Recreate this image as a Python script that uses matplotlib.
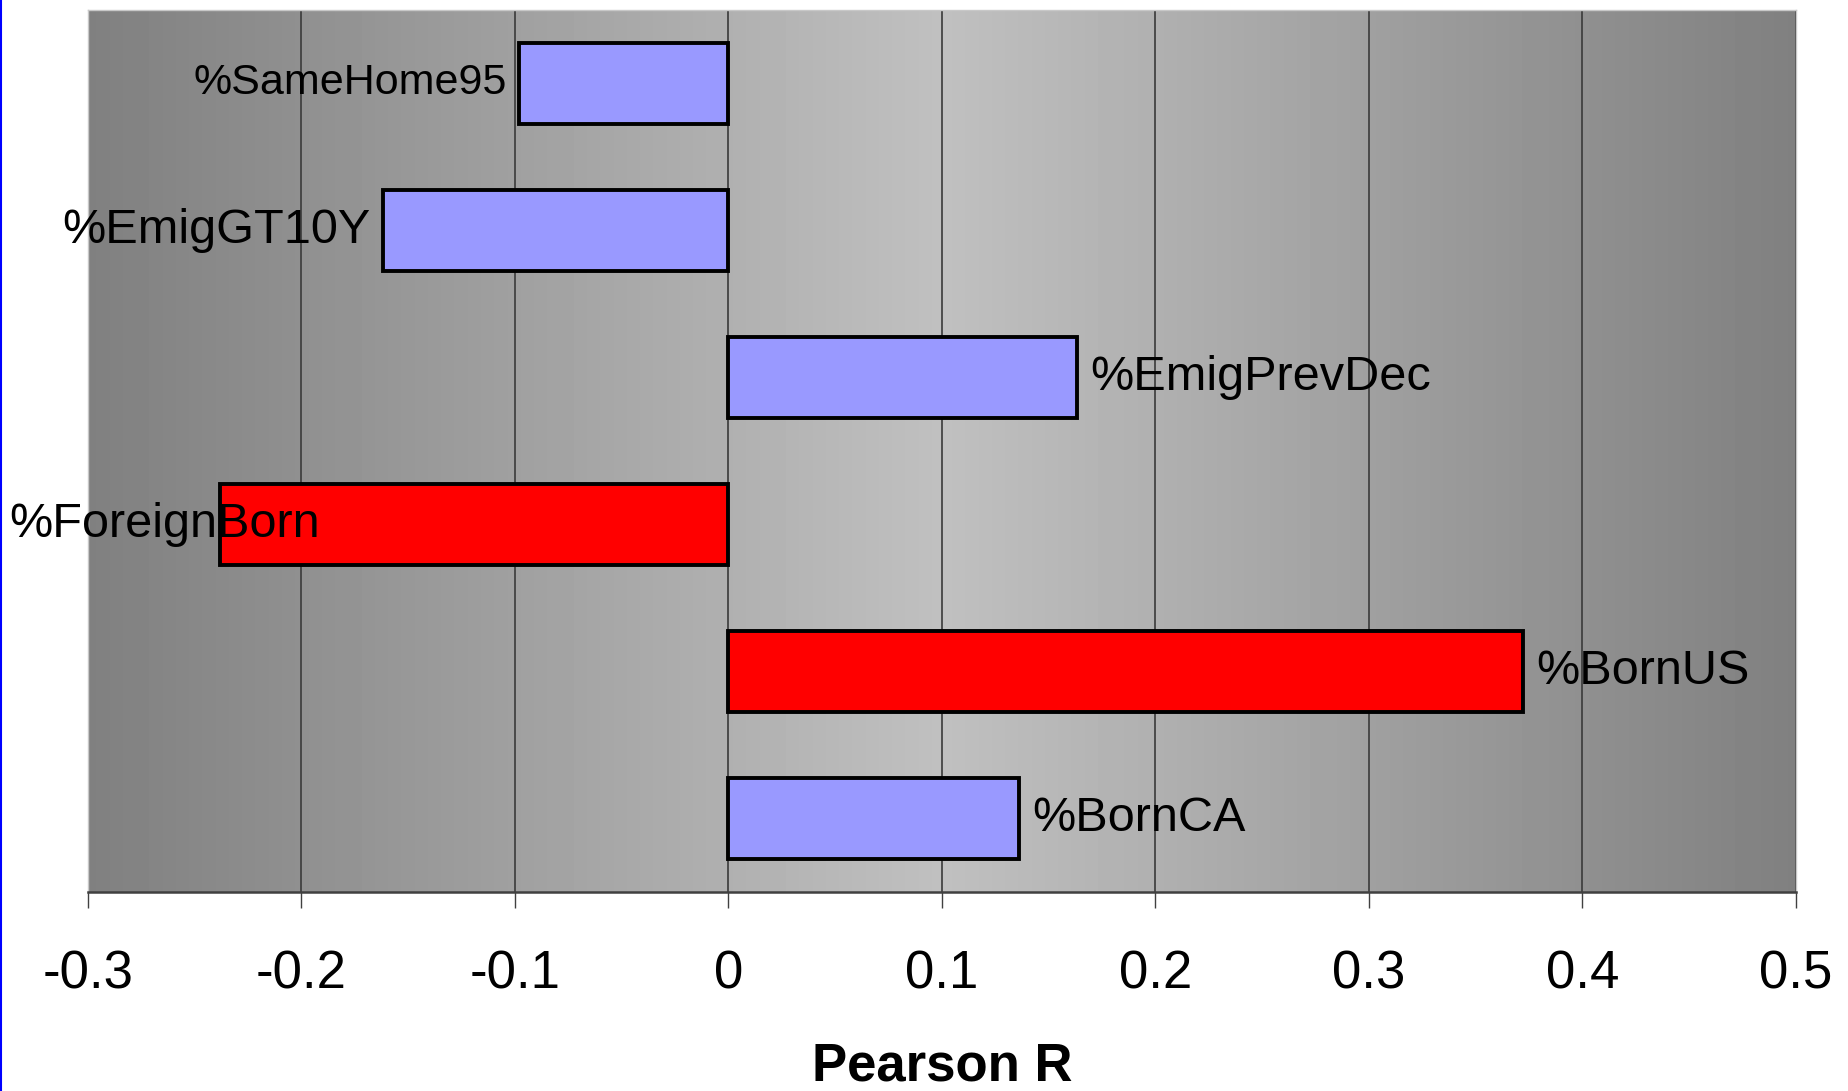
import numpy as np
import matplotlib.pyplot as plt
from matplotlib.transforms import blended_transform_factory

# data
categories = ['%SameHome95', '%EmigGT10Y', '%EmigPrevDec', '%ForeignBorn', '%BornUS', '%BornCA']
pearson_r = [-0.098, -0.162, 0.163, -0.238, 0.372, 0.136]
bar_colors = ['#9999ff', '#9999ff', '#9999ff', '#ff0000', '#ff0000', '#9999ff']
x_ticks = [-0.3, -0.2, -0.1, 0, 0.1, 0.2, 0.3, 0.4, 0.5]
x_tick_labels = ['-0.3', '-0.2', '-0.1', '0', '0.1', '0.2', '0.3', '0.4', '0.5']

plt.rcParams['font.family'] = ['Liberation Sans', 'DejaVu Sans']

fig = plt.figure(figsize=(18.48, 10.91), dpi=100)
ax = fig.add_axes([88 / 1848, 1 - 892 / 1091, (1796 - 88) / 1848, (892 - 10) / 1091])

# gradient background: dark grey at the edges, light grey in the middle
grad = 1 - np.abs(np.linspace(-1, 1, 512))
grad = (128 + 64 * grad) / 255
ax.imshow(np.tile(grad, (2, 1)), cmap='gray', vmin=0, vmax=1,
          extent=[-0.3, 0.5, 5.5, -0.5], aspect='auto', zorder=-1,
          interpolation='bilinear')

y = np.arange(len(categories))
ax.barh(y, pearson_r, height=0.55, color=bar_colors, edgecolor='black',
        linewidth=2.8, zorder=2)

# labels at the end of each bar
for i, (name, v) in enumerate(zip(categories, pearson_r)):
    size = 31 if name == '%SameHome95' else 35
    if name == '%ForeignBorn':
        # too long to fit left of the bar, pinned to the figure edge
        tr = blended_transform_factory(fig.transFigure, ax.transData)
        ax.text(0.005, i, name, transform=tr, ha='left', va='center',
                fontsize=size, zorder=3, clip_on=False)
        continue
    off = 10 if v > 0 else -9
    ax.annotate(name, (v, i), xytext=(off, 0), textcoords='offset points',
                ha='left' if v > 0 else 'right', va='center', fontsize=size,
                zorder=3, annotation_clip=False)

ax.set_xlim(-0.3, 0.5)
ax.set_ylim(5.5, -0.5)
ax.set_xticks(x_ticks)
ax.set_xticklabels(x_tick_labels)
ax.xaxis.grid(True, color='#3a3a3a', lw=1.2)
ax.set_axisbelow(True)

ax.tick_params(axis='x', direction='out', length=11.5, width=1, color='#404040',
               labelsize=38, pad=30)
ax.tick_params(axis='y', left=False, labelleft=False)

ax.spines['bottom'].set_color('#404040')
ax.spines['bottom'].set_linewidth(1.8)
for s in ['top', 'right', 'left']:
    ax.spines[s].set_color('#c8c8c8')
    ax.spines[s].set_linewidth(1)

ax.set_xlabel('Pearson R', fontsize=38, fontweight='bold', labelpad=30)

# thin blue rule on the left edge of the slide
fig.add_artist(plt.Line2D([0.0008, 0.0008], [0, 1], color='#0000ff', lw=1.5,
                          transform=fig.transFigure))

fig.savefig('out.png', dpi=100)
